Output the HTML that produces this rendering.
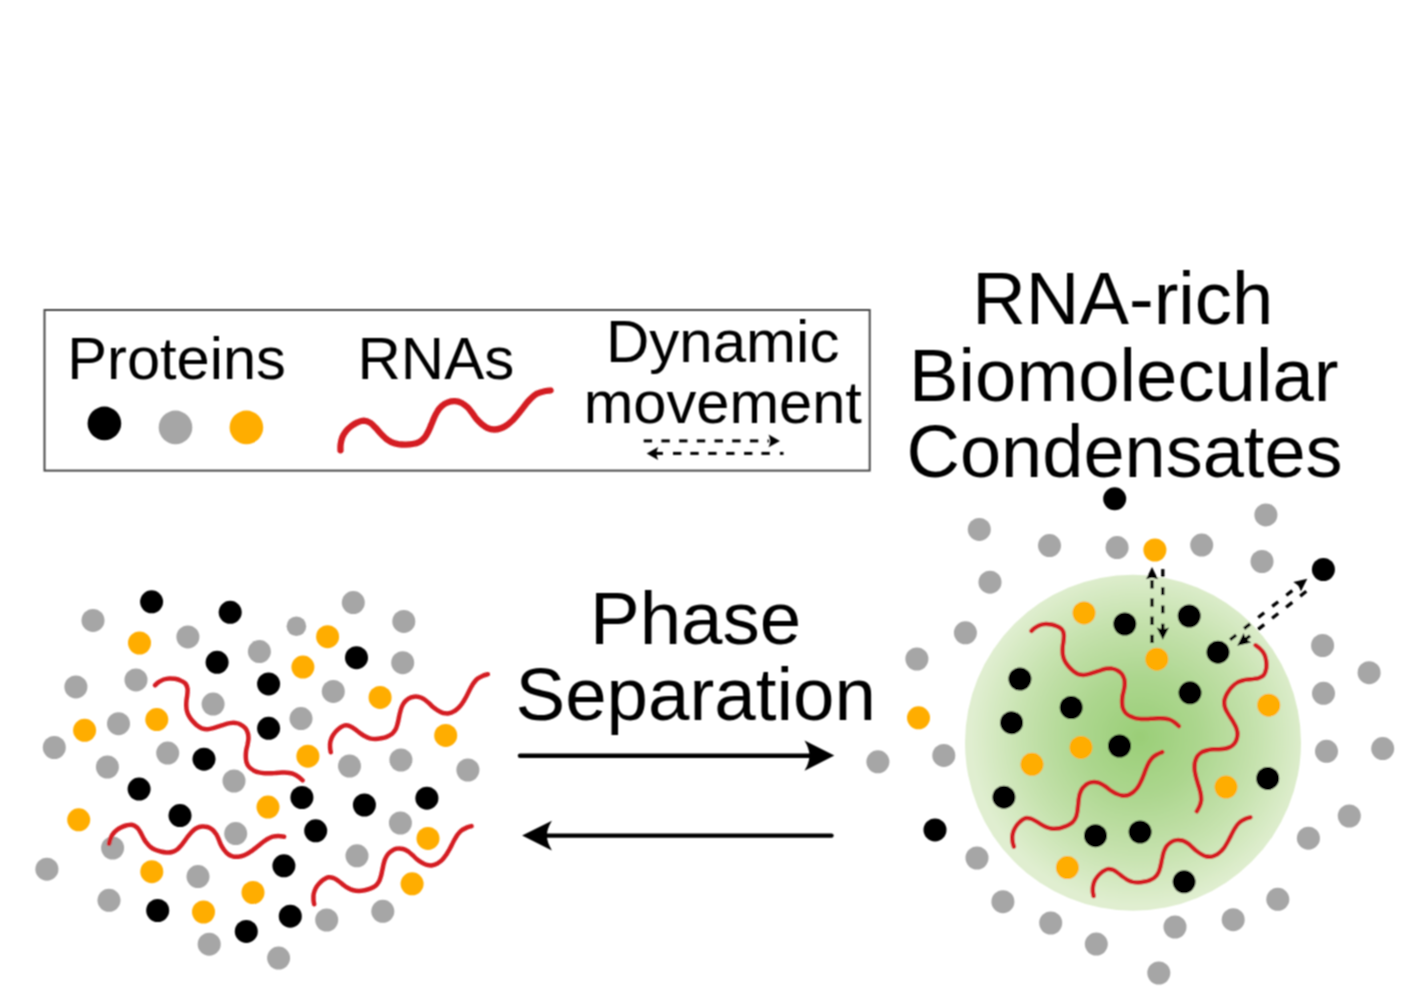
<!DOCTYPE html><html><head><meta charset="utf-8"><style>html,body{margin:0;padding:0;background:#fff;width:1423px;height:991px;overflow:hidden}svg{display:block}</style></head><body><svg width="1423" height="991" viewBox="0 0 1423 991"><defs><radialGradient id="g" cx="1140" cy="737" r="169" gradientUnits="userSpaceOnUse"><stop offset="0" stop-color="#9ACE77"/><stop offset="0.35" stop-color="#ACD68E"/><stop offset="0.7" stop-color="#C6E2AE"/><stop offset="1" stop-color="#E0EED0"/></radialGradient><filter id="bl" x="0" y="0" width="1423" height="991" filterUnits="userSpaceOnUse"><feConvolveMatrix order="3" kernelMatrix="1 2 1 2 4 2 1 2 1" divisor="16" edgeMode="duplicate"/></filter></defs><rect width="1423" height="991" fill="#fff"/><g filter="url(#bl)"><rect x="44.5" y="310" width="825.2" height="160.6" fill="none" stroke="#4a4a4a" stroke-width="2"/><text x="67.3" y="379" font-size="59.6" font-family="Liberation Sans, sans-serif" fill="#000">Proteins</text><text x="357.5" y="379.4" font-size="60" font-family="Liberation Sans, sans-serif" fill="#000">RNAs</text><text x="606" y="362" font-size="60" font-family="Liberation Sans, sans-serif" fill="#000">Dynamic</text><text x="583.7" y="423" font-size="59.6" font-family="Liberation Sans, sans-serif" fill="#000">movement</text><text x="590" y="644.2" font-size="74.5" font-family="Liberation Sans, sans-serif" fill="#000">Phase</text><text x="515.5" y="719.9" font-size="74.5" font-family="Liberation Sans, sans-serif" fill="#000">Separation</text><text x="972.3" y="324.3" font-size="74.2" font-family="Liberation Sans, sans-serif" fill="#000">RNA-rich</text><text x="909" y="400.8" font-size="74.3" font-family="Liberation Sans, sans-serif" fill="#000">Biomolecular</text><text x="906.5" y="477.2" font-size="74" font-family="Liberation Sans, sans-serif" fill="#000">Condensates</text><circle cx="104.4" cy="423.4" r="16.8" fill="#000000"/><circle cx="175.5" cy="427.4" r="16.8" fill="#A6A6A6"/><circle cx="246.4" cy="427.4" r="16.8" fill="#FFAD00"/><circle cx="1133" cy="742.8" r="168" fill="url(#g)"/><circle cx="93" cy="620.4" r="11.5" fill="#A6A6A6"/><circle cx="187.9" cy="636.9" r="11.5" fill="#A6A6A6"/><circle cx="259.4" cy="651.6" r="11.5" fill="#A6A6A6"/><circle cx="136" cy="679.9" r="11.5" fill="#A6A6A6"/><circle cx="75.9" cy="686.9" r="11.5" fill="#A6A6A6"/><circle cx="213.1" cy="704.1" r="11.5" fill="#A6A6A6"/><circle cx="118.5" cy="723.7" r="11.5" fill="#A6A6A6"/><circle cx="54.3" cy="747.5" r="11.5" fill="#A6A6A6"/><circle cx="167.7" cy="753.1" r="11.5" fill="#A6A6A6"/><circle cx="107.4" cy="767" r="11.5" fill="#A6A6A6"/><circle cx="234" cy="781" r="11.5" fill="#A6A6A6"/><circle cx="235.7" cy="833.6" r="11.5" fill="#A6A6A6"/><circle cx="112.6" cy="848" r="11.5" fill="#A6A6A6"/><circle cx="46.9" cy="869.2" r="11.5" fill="#A6A6A6"/><circle cx="198" cy="876.6" r="11.5" fill="#A6A6A6"/><circle cx="109" cy="900.3" r="11.5" fill="#A6A6A6"/><circle cx="209.2" cy="944.2" r="11.5" fill="#A6A6A6"/><circle cx="353.3" cy="602.6" r="11.5" fill="#A6A6A6"/><circle cx="403.8" cy="621.4" r="11.5" fill="#A6A6A6"/><circle cx="402.7" cy="662.7" r="11.5" fill="#A6A6A6"/><circle cx="333.3" cy="691.4" r="11.5" fill="#A6A6A6"/><circle cx="301" cy="718.6" r="11.5" fill="#A6A6A6"/><circle cx="349.5" cy="766" r="11.5" fill="#A6A6A6"/><circle cx="400.9" cy="760" r="11.5" fill="#A6A6A6"/><circle cx="467.9" cy="770" r="11.5" fill="#A6A6A6"/><circle cx="400.4" cy="823" r="11.5" fill="#A6A6A6"/><circle cx="357" cy="855.8" r="11.5" fill="#A6A6A6"/><circle cx="326.7" cy="920" r="11.5" fill="#A6A6A6"/><circle cx="382.8" cy="911.3" r="11.5" fill="#A6A6A6"/><circle cx="278.6" cy="958.1" r="11.5" fill="#A6A6A6"/><circle cx="296.4" cy="626.2" r="9.8" fill="#A6A6A6"/><circle cx="139.5" cy="643" r="11.5" fill="#FFAD00"/><circle cx="156.8" cy="719.6" r="11.5" fill="#FFAD00"/><circle cx="84.6" cy="730.3" r="11.5" fill="#FFAD00"/><circle cx="78.7" cy="819.8" r="11.5" fill="#FFAD00"/><circle cx="151.8" cy="871.7" r="11.5" fill="#FFAD00"/><circle cx="253" cy="892.5" r="11.5" fill="#FFAD00"/><circle cx="203.5" cy="912" r="11.5" fill="#FFAD00"/><circle cx="268" cy="807.1" r="11.5" fill="#FFAD00"/><circle cx="327.6" cy="636.7" r="11.5" fill="#FFAD00"/><circle cx="302.9" cy="667.1" r="11.5" fill="#FFAD00"/><circle cx="380.1" cy="697.4" r="11.5" fill="#FFAD00"/><circle cx="445.7" cy="735.4" r="11.5" fill="#FFAD00"/><circle cx="307.9" cy="756.2" r="11.5" fill="#FFAD00"/><circle cx="428" cy="838.4" r="11.5" fill="#FFAD00"/><circle cx="412.1" cy="883.8" r="11.5" fill="#FFAD00"/><circle cx="151.6" cy="601.8" r="11.5" fill="#000000"/><circle cx="230.2" cy="612.3" r="11.5" fill="#000000"/><circle cx="217.1" cy="662.3" r="11.5" fill="#000000"/><circle cx="268.6" cy="683.9" r="11.5" fill="#000000"/><circle cx="268.6" cy="728.3" r="11.5" fill="#000000"/><circle cx="204" cy="759.2" r="11.5" fill="#000000"/><circle cx="139.1" cy="789.1" r="11.5" fill="#000000"/><circle cx="180" cy="815.6" r="11.5" fill="#000000"/><circle cx="157.7" cy="910.5" r="11.5" fill="#000000"/><circle cx="246.3" cy="931.4" r="11.5" fill="#000000"/><circle cx="356.5" cy="657.7" r="11.5" fill="#000000"/><circle cx="301.9" cy="797.5" r="11.5" fill="#000000"/><circle cx="364.4" cy="805" r="11.5" fill="#000000"/><circle cx="426.9" cy="798.2" r="11.5" fill="#000000"/><circle cx="315.7" cy="830.8" r="11.5" fill="#000000"/><circle cx="283.9" cy="865.8" r="11.5" fill="#000000"/><circle cx="290.3" cy="916.2" r="11.5" fill="#000000"/><circle cx="979.3" cy="529.4" r="11.5" fill="#A6A6A6"/><circle cx="1049.5" cy="545.6" r="11.5" fill="#A6A6A6"/><circle cx="1117.1" cy="547.6" r="11.5" fill="#A6A6A6"/><circle cx="1201.7" cy="545.1" r="11.5" fill="#A6A6A6"/><circle cx="1265.9" cy="514.9" r="11.5" fill="#A6A6A6"/><circle cx="1262" cy="561.5" r="11.5" fill="#A6A6A6"/><circle cx="990" cy="582.2" r="11.5" fill="#A6A6A6"/><circle cx="965.4" cy="632.8" r="11.5" fill="#A6A6A6"/><circle cx="916.9" cy="659" r="11.5" fill="#A6A6A6"/><circle cx="943.8" cy="755.4" r="11.5" fill="#A6A6A6"/><circle cx="877.9" cy="761.8" r="11.5" fill="#A6A6A6"/><circle cx="977" cy="858" r="11.5" fill="#A6A6A6"/><circle cx="1002.9" cy="901.7" r="11.5" fill="#A6A6A6"/><circle cx="1050.7" cy="923" r="11.5" fill="#A6A6A6"/><circle cx="1096.3" cy="944.1" r="11.5" fill="#A6A6A6"/><circle cx="1175" cy="927" r="11.5" fill="#A6A6A6"/><circle cx="1158.8" cy="973" r="11.5" fill="#A6A6A6"/><circle cx="1233.2" cy="919.7" r="11.5" fill="#A6A6A6"/><circle cx="1277.8" cy="899.3" r="11.5" fill="#A6A6A6"/><circle cx="1308.4" cy="838.2" r="11.5" fill="#A6A6A6"/><circle cx="1349.3" cy="816" r="11.5" fill="#A6A6A6"/><circle cx="1326.5" cy="751.3" r="11.5" fill="#A6A6A6"/><circle cx="1382.7" cy="748.6" r="11.5" fill="#A6A6A6"/><circle cx="1323.5" cy="693.3" r="11.5" fill="#A6A6A6"/><circle cx="1322.6" cy="645.5" r="11.5" fill="#A6A6A6"/><circle cx="1369.1" cy="672.7" r="11.5" fill="#A6A6A6"/><circle cx="1154.9" cy="550" r="11.5" fill="#FFAD00"/><circle cx="1084" cy="612.9" r="11.5" fill="#FFAD00"/><circle cx="1156.8" cy="659.2" r="11.5" fill="#FFAD00"/><circle cx="1268.7" cy="705.2" r="11.5" fill="#FFAD00"/><circle cx="1081" cy="747.4" r="11.5" fill="#FFAD00"/><circle cx="1032" cy="764.3" r="11.5" fill="#FFAD00"/><circle cx="1226" cy="787.1" r="11.5" fill="#FFAD00"/><circle cx="1067.4" cy="867.6" r="11.5" fill="#FFAD00"/><circle cx="918.5" cy="717.8" r="11.5" fill="#FFAD00"/><circle cx="1114.7" cy="498.8" r="11.5" fill="#000000"/><circle cx="1323.4" cy="569.5" r="11.5" fill="#000000"/><circle cx="1124.8" cy="624" r="11.5" fill="#000000"/><circle cx="1189.2" cy="616" r="11.5" fill="#000000"/><circle cx="1218" cy="652.2" r="11.5" fill="#000000"/><circle cx="1019.9" cy="679" r="11.5" fill="#000000"/><circle cx="1071.2" cy="707.5" r="11.5" fill="#000000"/><circle cx="1190" cy="692.8" r="11.5" fill="#000000"/><circle cx="1011.6" cy="722.7" r="11.5" fill="#000000"/><circle cx="1119.5" cy="746" r="11.5" fill="#000000"/><circle cx="1267.7" cy="778.4" r="11.5" fill="#000000"/><circle cx="1003.9" cy="797.2" r="11.5" fill="#000000"/><circle cx="1095.5" cy="835.7" r="11.5" fill="#000000"/><circle cx="1140.1" cy="832" r="11.5" fill="#000000"/><circle cx="1184.1" cy="881.8" r="11.5" fill="#000000"/><circle cx="935" cy="829.9" r="11.5" fill="#000000"/><path d="M340.5,450.3 C340.5,449.3 340.3,446.7 340.6,444.6 C340.9,442.5 341.4,439.8 342.2,437.6 C343.1,435.5 344.3,433.3 345.8,431.4 C347.2,429.6 349.0,427.9 350.9,426.4 C352.7,425.0 354.8,423.6 356.9,422.6 C359.1,421.7 361.5,420.6 363.8,420.6 C366.0,420.7 368.4,421.7 370.4,422.9 C372.4,424.1 374.0,426.1 375.6,427.8 C377.3,429.5 378.7,431.5 380.3,433.2 C381.9,434.9 383.6,436.7 385.4,438.2 C387.3,439.7 389.3,441.0 391.4,442.1 C393.5,443.1 395.9,443.7 398.2,444.2 C400.5,444.6 403.0,444.7 405.4,444.7 C407.7,444.6 410.2,444.5 412.5,444.0 C414.8,443.6 417.3,443.0 419.3,441.9 C421.4,440.8 423.2,439.1 424.8,437.3 C426.3,435.6 427.3,433.3 428.4,431.2 C429.5,429.1 430.3,426.8 431.3,424.6 C432.2,422.4 433.1,420.2 434.0,418.0 C435.0,415.8 436.0,413.6 437.3,411.6 C438.5,409.6 440.0,407.6 441.7,406.1 C443.5,404.5 445.7,403.2 447.9,402.4 C450.0,401.6 452.5,401.1 454.9,401.2 C457.2,401.3 459.6,402.0 461.7,403.0 C463.8,404.0 465.7,405.6 467.5,407.3 C469.2,408.9 470.5,410.9 472.0,412.8 C473.5,414.7 474.7,416.8 476.2,418.6 C477.8,420.4 479.4,422.1 481.2,423.7 C483.1,425.2 485.0,426.8 487.1,427.8 C489.2,428.8 491.7,429.5 494.0,429.5 C496.3,429.6 498.7,429.0 500.9,428.2 C503.2,427.4 505.3,426.2 507.3,424.8 C509.2,423.5 511.0,421.8 512.7,420.2 C514.4,418.5 516.0,416.7 517.5,414.8 C519.0,413.0 520.4,411.1 521.9,409.2 C523.4,407.3 524.8,405.4 526.3,403.5 C527.9,401.7 529.4,399.8 531.1,398.2 C532.8,396.6 534.7,394.9 536.7,393.8 C538.8,392.7 541.2,392.0 543.5,391.5 C545.8,390.9 549.4,390.7 550.6,390.5" fill="none" stroke="#D41D22" stroke-width="6.3" stroke-linecap="round" stroke-linejoin="round"/><path d="M155.1,685.2 C155.7,684.7 157.2,683.2 158.6,682.2 C160.0,681.3 161.9,680.2 163.7,679.5 C165.4,678.9 167.4,678.5 169.3,678.4 C171.2,678.3 173.1,678.5 175.0,678.8 C176.9,679.2 178.8,679.7 180.5,680.5 C182.3,681.2 184.2,682.1 185.4,683.5 C186.5,684.9 187.2,686.9 187.5,688.7 C187.8,690.6 187.5,692.6 187.3,694.5 C187.2,696.4 186.7,698.3 186.5,700.2 C186.3,702.1 186.2,704.0 186.3,705.9 C186.3,707.8 186.6,709.8 187.1,711.6 C187.6,713.4 188.4,715.2 189.4,716.8 C190.4,718.4 191.6,720.0 192.9,721.4 C194.2,722.8 195.5,724.2 197.0,725.4 C198.6,726.5 200.2,727.7 201.9,728.4 C203.7,729.0 205.7,729.3 207.6,729.2 C209.5,729.2 211.4,728.7 213.2,728.2 C215.1,727.7 216.9,727.0 218.7,726.4 C220.6,725.8 222.4,725.1 224.2,724.6 C226.0,724.0 227.9,723.4 229.8,723.1 C231.6,722.8 233.6,722.7 235.5,722.9 C237.3,723.2 239.3,723.8 240.9,724.7 C242.6,725.5 244.2,726.8 245.4,728.2 C246.6,729.7 247.4,731.5 247.9,733.3 C248.4,735.1 248.5,737.2 248.4,739.1 C248.3,741.0 247.8,742.9 247.5,744.7 C247.1,746.6 246.5,748.5 246.2,750.4 C245.9,752.3 245.8,754.2 245.8,756.1 C245.8,758.0 245.9,760.0 246.4,761.8 C246.9,763.6 247.8,765.5 249.0,766.9 C250.2,768.3 251.9,769.5 253.5,770.4 C255.2,771.3 257.1,772.0 258.9,772.4 C260.7,772.9 262.7,773.1 264.6,773.2 C266.5,773.4 268.4,773.3 270.4,773.3 C272.3,773.3 274.2,773.1 276.1,773.0 C278.0,772.9 279.9,772.7 281.9,772.6 C283.8,772.6 285.7,772.5 287.6,772.7 C289.5,772.9 291.5,773.1 293.3,773.8 C295.0,774.4 296.7,775.5 298.2,776.6 C299.8,777.7 301.9,779.8 302.6,780.4" fill="none" stroke="#D41D22" stroke-width="4.5" stroke-linecap="round" stroke-linejoin="round"/><path d="M330.8,752.3 C330.7,751.5 330.1,749.5 330.1,747.8 C330.0,746.1 329.9,743.9 330.3,742.1 C330.7,740.2 331.3,738.3 332.2,736.6 C333.1,734.9 334.2,733.4 335.5,731.9 C336.7,730.5 338.2,729.1 339.7,728.0 C341.3,727.0 343.0,725.7 344.8,725.4 C346.6,725.2 348.6,725.6 350.4,726.3 C352.1,726.9 353.7,728.2 355.2,729.4 C356.8,730.5 358.2,731.8 359.7,732.9 C361.3,734.1 362.8,735.2 364.5,736.1 C366.2,737.0 368.0,737.8 369.8,738.3 C371.6,738.8 373.6,739.0 375.5,739.0 C377.4,739.0 379.3,738.7 381.2,738.3 C383.1,737.9 385.0,737.5 386.7,736.8 C388.5,736.1 390.3,735.3 391.8,734.1 C393.2,732.9 394.5,731.3 395.4,729.7 C396.4,728.1 396.9,726.1 397.4,724.3 C398.0,722.5 398.3,720.6 398.7,718.7 C399.1,716.8 399.4,714.9 399.9,713.0 C400.4,711.2 400.8,709.3 401.5,707.5 C402.2,705.8 403.1,704.0 404.2,702.5 C405.4,701.0 406.9,699.7 408.5,698.7 C410.1,697.7 412.0,697.0 413.9,696.7 C415.7,696.4 417.8,696.6 419.6,697.1 C421.4,697.6 423.1,698.6 424.7,699.7 C426.3,700.7 427.7,702.1 429.1,703.3 C430.6,704.6 431.8,706.1 433.3,707.3 C434.8,708.5 436.4,709.6 438.0,710.6 C439.7,711.5 441.4,712.5 443.2,713.0 C445.1,713.4 447.1,713.6 448.9,713.3 C450.7,713.1 452.6,712.2 454.2,711.2 C455.9,710.3 457.4,709.0 458.7,707.7 C460.1,706.3 461.2,704.8 462.3,703.2 C463.4,701.6 464.4,699.9 465.3,698.3 C466.3,696.6 467.1,694.9 468.0,693.2 C468.9,691.5 469.7,689.7 470.6,688.1 C471.6,686.4 472.5,684.7 473.6,683.1 C474.8,681.6 476.0,680.0 477.4,678.8 C478.9,677.6 480.7,676.8 482.4,676.0 C484.2,675.2 487.0,674.5 487.9,674.2" fill="none" stroke="#D41D22" stroke-width="4.5" stroke-linecap="round" stroke-linejoin="round"/><path d="M109.1,843.7 C109.3,843.0 109.7,840.9 110.3,839.3 C110.9,837.7 111.7,835.7 112.8,834.2 C113.9,832.6 115.3,831.2 116.8,830.0 C118.2,828.8 120.0,827.8 121.7,827.1 C123.4,826.3 125.3,825.6 127.1,825.2 C129.0,824.9 131.1,824.5 132.8,825.0 C134.6,825.4 136.2,826.7 137.6,828.0 C138.9,829.3 139.8,831.1 140.7,832.8 C141.7,834.4 142.4,836.2 143.3,837.9 C144.3,839.5 145.2,841.2 146.4,842.7 C147.6,844.2 148.9,845.7 150.3,846.9 C151.8,848.0 153.5,849.0 155.2,849.8 C157.0,850.6 158.8,851.1 160.7,851.5 C162.6,852.0 164.5,852.3 166.4,852.4 C168.3,852.5 170.3,852.5 172.1,852.0 C173.9,851.5 175.7,850.6 177.2,849.5 C178.7,848.4 180.0,846.8 181.2,845.4 C182.5,843.9 183.5,842.3 184.7,840.8 C185.8,839.3 186.9,837.7 188.1,836.2 C189.3,834.7 190.4,833.1 191.8,831.8 C193.2,830.5 194.7,829.2 196.3,828.3 C198.0,827.5 199.9,826.8 201.8,826.6 C203.6,826.4 205.7,826.5 207.5,827.0 C209.3,827.5 211.0,828.5 212.5,829.7 C213.9,830.9 215.1,832.5 216.1,834.1 C217.2,835.7 217.9,837.5 218.7,839.3 C219.4,841.0 220.0,842.9 220.8,844.6 C221.7,846.3 222.7,847.9 223.8,849.5 C224.9,851.0 226.1,852.6 227.6,853.8 C229.0,855.0 230.8,856.0 232.6,856.4 C234.4,856.9 236.4,856.9 238.3,856.7 C240.2,856.5 242.1,856.0 243.9,855.3 C245.6,854.6 247.3,853.7 249.0,852.7 C250.6,851.7 252.2,850.6 253.7,849.4 C255.3,848.3 256.7,847.0 258.2,845.9 C259.7,844.7 261.2,843.4 262.7,842.3 C264.3,841.1 265.8,840.0 267.5,839.0 C269.1,838.1 270.9,837.1 272.7,836.6 C274.5,836.2 276.5,836.1 278.4,836.1 C280.3,836.1 283.1,836.6 284.1,836.7" fill="none" stroke="#D41D22" stroke-width="4.5" stroke-linecap="round" stroke-linejoin="round"/><path d="M314.2,904.2 C314.1,903.4 313.5,901.4 313.5,899.7 C313.4,898.0 313.3,895.8 313.7,893.9 C314.1,892.1 314.7,890.2 315.6,888.5 C316.5,886.8 317.6,885.2 318.9,883.8 C320.2,882.4 321.6,881.0 323.1,879.9 C324.7,878.8 326.5,877.6 328.2,877.3 C330.0,877.0 332.1,877.5 333.8,878.2 C335.6,878.8 337.1,880.1 338.7,881.2 C340.2,882.3 341.6,883.7 343.2,884.8 C344.7,886.0 346.3,887.1 348.0,888.0 C349.6,888.9 351.4,889.7 353.3,890.2 C355.1,890.7 357.0,890.9 358.9,890.9 C360.8,890.9 362.8,890.6 364.7,890.2 C366.5,889.9 368.4,889.4 370.2,888.7 C372.0,888.0 373.9,887.2 375.3,886.0 C376.8,884.8 378.0,883.2 378.9,881.6 C379.9,880.0 380.4,878.0 380.9,876.2 C381.5,874.4 381.8,872.5 382.2,870.6 C382.7,868.7 383.0,866.8 383.4,864.9 C383.9,863.1 384.3,861.2 385.0,859.4 C385.8,857.6 386.6,855.8 387.8,854.4 C389.0,852.9 390.5,851.6 392.1,850.6 C393.7,849.6 395.6,848.8 397.4,848.6 C399.3,848.3 401.3,848.5 403.1,849.0 C405.0,849.5 406.7,850.5 408.3,851.5 C409.9,852.6 411.3,854.0 412.7,855.2 C414.1,856.5 415.4,858.0 416.9,859.2 C418.4,860.4 420.0,861.6 421.6,862.5 C423.3,863.5 425.0,864.4 426.8,864.9 C428.7,865.4 430.7,865.6 432.5,865.3 C434.4,865.0 436.2,864.1 437.9,863.2 C439.5,862.2 441.0,860.9 442.4,859.6 C443.7,858.3 444.9,856.7 446.0,855.1 C447.1,853.6 448.0,851.9 449.0,850.2 C449.9,848.5 450.8,846.8 451.7,845.1 C452.5,843.4 453.4,841.6 454.3,840.0 C455.3,838.3 456.2,836.6 457.3,835.0 C458.4,833.5 459.6,831.9 461.1,830.7 C462.6,829.5 464.4,828.7 466.1,827.9 C467.9,827.1 470.7,826.4 471.6,826.1" fill="none" stroke="#D41D22" stroke-width="4.5" stroke-linecap="round" stroke-linejoin="round"/><path d="M1031.4,630.9 C1032.0,630.4 1033.5,628.9 1034.9,627.9 C1036.3,627.0 1038.2,625.9 1040.0,625.2 C1041.7,624.6 1043.7,624.2 1045.6,624.1 C1047.5,624.0 1049.4,624.2 1051.3,624.5 C1053.2,624.9 1055.1,625.4 1056.8,626.2 C1058.6,626.9 1060.5,627.8 1061.7,629.2 C1062.8,630.6 1063.5,632.6 1063.8,634.4 C1064.1,636.3 1063.8,638.3 1063.6,640.2 C1063.5,642.1 1063.0,644.0 1062.8,645.9 C1062.6,647.8 1062.5,649.7 1062.6,651.6 C1062.6,653.5 1062.9,655.5 1063.4,657.3 C1063.9,659.1 1064.7,660.9 1065.7,662.5 C1066.7,664.1 1067.9,665.7 1069.2,667.1 C1070.5,668.5 1071.8,669.9 1073.3,671.1 C1074.9,672.2 1076.5,673.4 1078.2,674.1 C1080.0,674.7 1082.0,675.0 1083.9,674.9 C1085.8,674.9 1087.7,674.4 1089.5,673.9 C1091.4,673.4 1093.2,672.7 1095.0,672.1 C1096.9,671.5 1098.7,670.8 1100.5,670.3 C1102.3,669.7 1104.2,669.1 1106.1,668.8 C1107.9,668.5 1109.9,668.4 1111.8,668.6 C1113.6,668.9 1115.6,669.5 1117.2,670.4 C1118.9,671.2 1120.5,672.5 1121.7,673.9 C1122.9,675.4 1123.7,677.2 1124.2,679.0 C1124.7,680.8 1124.8,682.9 1124.7,684.8 C1124.6,686.7 1124.1,688.6 1123.8,690.4 C1123.4,692.3 1122.8,694.2 1122.5,696.1 C1122.2,698.0 1122.1,699.9 1122.1,701.8 C1122.1,703.7 1122.2,705.7 1122.7,707.5 C1123.2,709.3 1124.1,711.2 1125.3,712.6 C1126.5,714.0 1128.2,715.2 1129.8,716.1 C1131.5,717.0 1133.4,717.7 1135.2,718.1 C1137.0,718.6 1139.0,718.8 1140.9,718.9 C1142.8,719.1 1144.7,719.0 1146.7,719.0 C1148.6,719.0 1150.5,718.8 1152.4,718.7 C1154.3,718.6 1156.2,718.4 1158.2,718.3 C1160.1,718.3 1162.0,718.2 1163.9,718.4 C1165.8,718.6 1167.8,718.8 1169.6,719.5 C1171.3,720.1 1173.0,721.2 1174.5,722.3 C1176.1,723.4 1178.2,725.5 1178.9,726.1" fill="none" stroke="#D41D22" stroke-width="4.5" stroke-linecap="round" stroke-linejoin="round"/><path d="M1255.6,645.3 C1256.2,645.8 1258.0,646.9 1259.3,648.0 C1260.5,649.2 1262.1,650.8 1263.1,652.3 C1264.2,653.9 1265.0,655.8 1265.5,657.6 C1266.1,659.4 1266.3,661.3 1266.4,663.3 C1266.5,665.2 1266.5,667.2 1266.1,669.0 C1265.7,670.9 1265.3,673.0 1264.2,674.4 C1263.2,675.9 1261.4,677.0 1259.6,677.7 C1257.9,678.5 1255.9,678.6 1254.0,678.9 C1252.1,679.2 1250.2,679.2 1248.2,679.4 C1246.3,679.7 1244.4,680.0 1242.6,680.5 C1240.7,681.0 1238.9,681.7 1237.2,682.6 C1235.6,683.5 1234.0,684.8 1232.7,686.1 C1231.3,687.4 1230.1,689.0 1229.0,690.6 C1227.9,692.1 1226.9,693.8 1226.1,695.5 C1225.3,697.3 1224.5,699.1 1224.3,701.0 C1224.1,702.9 1224.3,704.9 1224.8,706.7 C1225.2,708.6 1226.2,710.3 1227.1,712.0 C1228.0,713.7 1229.1,715.3 1230.1,717.0 C1231.1,718.6 1232.2,720.2 1233.2,721.9 C1234.1,723.5 1235.1,725.2 1235.9,727.0 C1236.6,728.7 1237.2,730.6 1237.4,732.5 C1237.6,734.4 1237.4,736.4 1236.9,738.2 C1236.5,740.0 1235.6,741.9 1234.5,743.4 C1233.3,744.9 1231.7,746.2 1230.1,747.1 C1228.4,748.0 1226.5,748.5 1224.6,748.8 C1222.7,749.2 1220.8,749.2 1218.9,749.2 C1216.9,749.3 1215.0,749.1 1213.1,749.3 C1211.2,749.5 1209.2,749.8 1207.4,750.2 C1205.5,750.7 1203.6,751.2 1201.9,752.1 C1200.3,753.1 1198.7,754.4 1197.6,755.8 C1196.5,757.3 1195.7,759.3 1195.2,761.1 C1194.7,762.9 1194.5,764.9 1194.5,766.8 C1194.4,768.7 1194.7,770.6 1195.0,772.5 C1195.3,774.4 1195.8,776.3 1196.3,778.2 C1196.8,780.0 1197.4,781.9 1197.9,783.7 C1198.5,785.6 1199.1,787.4 1199.6,789.3 C1200.1,791.1 1200.6,793.0 1200.9,794.9 C1201.1,796.8 1201.3,798.8 1201.1,800.7 C1200.9,802.5 1200.2,804.4 1199.5,806.2 C1198.8,808.0 1197.2,810.4 1196.8,811.3" fill="none" stroke="#D41D22" stroke-width="4.5" stroke-linecap="round" stroke-linejoin="round"/><path d="M1013.9,846.6 C1013.7,845.9 1012.9,843.9 1012.7,842.2 C1012.4,840.5 1012.2,838.3 1012.3,836.4 C1012.5,834.6 1013.0,832.6 1013.6,830.8 C1014.3,829.1 1015.3,827.4 1016.4,825.8 C1017.5,824.2 1018.8,822.7 1020.2,821.5 C1021.6,820.2 1023.3,818.8 1025.0,818.3 C1026.7,817.9 1028.8,818.1 1030.7,818.6 C1032.5,819.1 1034.1,820.2 1035.8,821.1 C1037.5,822.1 1039.0,823.3 1040.7,824.2 C1042.3,825.2 1044.0,826.2 1045.8,826.9 C1047.5,827.6 1049.4,828.2 1051.3,828.5 C1053.1,828.8 1055.1,828.8 1057.0,828.6 C1058.9,828.4 1060.8,827.9 1062.6,827.3 C1064.5,826.8 1066.3,826.1 1068.0,825.2 C1069.7,824.3 1071.4,823.3 1072.8,822.0 C1074.1,820.7 1075.2,818.9 1075.9,817.2 C1076.7,815.5 1077.0,813.5 1077.3,811.6 C1077.7,809.7 1077.8,807.8 1078.0,805.9 C1078.2,804.0 1078.4,802.0 1078.6,800.1 C1078.9,798.2 1079.1,796.3 1079.6,794.5 C1080.2,792.6 1080.8,790.8 1081.8,789.2 C1082.8,787.6 1084.2,786.1 1085.7,784.9 C1087.2,783.8 1089.0,782.8 1090.8,782.4 C1092.6,781.9 1094.7,781.9 1096.5,782.2 C1098.4,782.5 1100.2,783.3 1101.9,784.2 C1103.6,785.0 1105.1,786.3 1106.7,787.4 C1108.3,788.5 1109.7,789.8 1111.3,790.9 C1112.9,791.9 1114.6,792.9 1116.3,793.7 C1118.1,794.4 1119.9,795.2 1121.8,795.5 C1123.7,795.8 1125.7,795.7 1127.5,795.3 C1129.3,794.8 1131.0,793.7 1132.6,792.6 C1134.1,791.5 1135.5,790.0 1136.7,788.6 C1137.9,787.1 1138.9,785.4 1139.8,783.7 C1140.7,782.0 1141.5,780.3 1142.3,778.5 C1143.0,776.7 1143.7,774.9 1144.4,773.1 C1145.1,771.3 1145.7,769.5 1146.5,767.7 C1147.2,766.0 1148.0,764.2 1148.9,762.5 C1149.9,760.9 1150.9,759.2 1152.3,757.8 C1153.6,756.5 1155.3,755.4 1156.9,754.5 C1158.6,753.5 1161.3,752.5 1162.2,752.1" fill="none" stroke="#D41D22" stroke-width="4.5" stroke-linecap="round" stroke-linejoin="round"/><path d="M1093.6,896.0 C1093.5,895.2 1092.9,893.2 1092.8,891.5 C1092.7,889.8 1092.7,887.6 1093.1,885.8 C1093.4,883.9 1094.1,882.0 1094.9,880.3 C1095.8,878.6 1097.0,877.1 1098.2,875.6 C1099.4,874.2 1100.9,872.8 1102.4,871.7 C1104.0,870.6 1105.7,869.4 1107.5,869.1 C1109.3,868.8 1111.3,869.3 1113.1,869.9 C1114.8,870.5 1116.4,871.9 1117.9,873.0 C1119.5,874.1 1120.9,875.4 1122.4,876.5 C1124.0,877.7 1125.6,878.8 1127.2,879.7 C1128.9,880.6 1130.7,881.4 1132.5,881.9 C1134.4,882.3 1136.3,882.5 1138.2,882.5 C1140.1,882.5 1142.1,882.2 1143.9,881.8 C1145.8,881.4 1147.7,881.0 1149.5,880.3 C1151.2,879.6 1153.1,878.8 1154.5,877.6 C1156.0,876.4 1157.2,874.8 1158.1,873.1 C1159.1,871.5 1159.6,869.6 1160.1,867.7 C1160.7,865.9 1161.0,864.0 1161.4,862.1 C1161.8,860.2 1162.1,858.3 1162.6,856.5 C1163.0,854.6 1163.4,852.7 1164.1,851.0 C1164.8,849.2 1165.7,847.4 1166.8,845.9 C1168.0,844.4 1169.5,843.1 1171.1,842.1 C1172.7,841.1 1174.6,840.4 1176.5,840.1 C1178.3,839.8 1180.3,840.0 1182.2,840.5 C1184.0,841.0 1185.7,842.0 1187.3,843.0 C1188.9,844.0 1190.3,845.4 1191.7,846.7 C1193.2,847.9 1194.4,849.4 1195.9,850.6 C1197.4,851.8 1199.0,852.9 1200.7,853.9 C1202.3,854.8 1204.1,855.8 1205.9,856.3 C1207.7,856.7 1209.7,856.9 1211.6,856.6 C1213.4,856.3 1215.2,855.4 1216.9,854.5 C1218.5,853.5 1220.0,852.2 1221.4,850.9 C1222.7,849.5 1223.9,848.0 1225.0,846.4 C1226.0,844.8 1227.0,843.1 1227.9,841.5 C1228.9,839.8 1229.7,838.1 1230.6,836.4 C1231.4,834.6 1232.3,832.9 1233.2,831.2 C1234.1,829.6 1235.0,827.8 1236.2,826.3 C1237.3,824.7 1238.5,823.2 1240.0,822.0 C1241.4,820.8 1243.2,819.9 1244.9,819.1 C1246.7,818.4 1249.5,817.6 1250.4,817.3" fill="none" stroke="#D41D22" stroke-width="4.5" stroke-linecap="round" stroke-linejoin="round"/><line x1="520" y1="755.8" x2="812" y2="755.8" stroke="#000" stroke-width="4.4" stroke-linecap="round"/><path d="M834.3,755.6 L804.5,770.8 Q809.5,762.4 809.5,755.6 Q809.5,748.8 804.5,740.4 Z" fill="#000"/><line x1="545" y1="835.6" x2="831.5" y2="835.6" stroke="#000" stroke-width="4.4" stroke-linecap="round"/><path d="M522.1,835.6 L551.9,820.8 Q546.9,828.9 546.9,835.6 Q546.9,842.3 551.9,850.4 Z" fill="#000"/><g stroke="#000" stroke-width="3" stroke-linecap="butt"><line x1="643.7" y1="440.9" x2="652.1" y2="440.9"/><line x1="661.4" y1="440.9" x2="669.8" y2="440.9"/><line x1="679.1" y1="440.9" x2="687.5" y2="440.9"/><line x1="696.8" y1="440.9" x2="705.2" y2="440.9"/><line x1="714.5" y1="440.9" x2="722.9" y2="440.9"/><line x1="732.2" y1="440.9" x2="740.6" y2="440.9"/><line x1="749.9" y1="440.9" x2="758.3" y2="440.9"/><line x1="767.6" y1="440.9" x2="769.0" y2="440.9"/><line x1="655.0" y1="453.4" x2="662.9" y2="453.4"/><line x1="673.0" y1="453.4" x2="681.4" y2="453.4"/><line x1="690.3" y1="453.4" x2="698.7" y2="453.4"/><line x1="708.2" y1="453.4" x2="716.6" y2="453.4"/><line x1="726.2" y1="453.4" x2="734.5" y2="453.4"/><line x1="744.1" y1="453.4" x2="752.4" y2="453.4"/><line x1="761.4" y1="453.4" x2="769.8" y2="453.4"/><line x1="779.9" y1="453.4" x2="783.5" y2="453.4"/></g><path d="M780.0,440.9 L768.5,447.2 Q770.3,442.8 770.3,440.9 Q770.3,439.0 768.5,434.6 Z" fill="#000"/><path d="M646.7,453.4 L658.2,446.9 Q656.4,451.4 656.4,453.4 Q656.4,455.3 658.2,459.9 Z" fill="#000"/><g stroke="#000" stroke-width="3.3" stroke-linecap="butt"><line x1="1152.0" y1="580.2" x2="1152.0" y2="588.5"/><line x1="1152.0" y1="598.4" x2="1152.0" y2="606.7"/><line x1="1152.0" y1="616.6" x2="1152.0" y2="624.9"/><line x1="1152.0" y1="634.8" x2="1152.0" y2="643.0"/><line x1="1162.8" y1="569.1" x2="1162.8" y2="576.9"/><line x1="1162.8" y1="587.3" x2="1162.8" y2="595.1"/><line x1="1162.8" y1="605.5" x2="1162.8" y2="613.3"/><line x1="1162.8" y1="623.7" x2="1162.8" y2="630.0"/><line x1="1230.1" y1="639.7" x2="1236.1" y2="635.0"/><line x1="1244.1" y1="628.6" x2="1250.1" y2="623.9"/><line x1="1258.2" y1="617.5" x2="1264.2" y2="612.8"/><line x1="1272.2" y1="606.4" x2="1278.2" y2="601.7"/><line x1="1286.3" y1="595.3" x2="1292.3" y2="590.6"/><line x1="1306.3" y1="591.3" x2="1300.2" y2="596.1"/><line x1="1292.3" y1="602.4" x2="1286.1" y2="607.2"/><line x1="1278.2" y1="613.5" x2="1272.1" y2="618.3"/><line x1="1264.2" y1="624.6" x2="1258.0" y2="629.4"/><line x1="1250.1" y1="635.7" x2="1244.0" y2="640.5"/></g><path d="M1152.0,567.1 L1158.0,579.3 Q1153.8,577.8 1152.0,577.8 Q1150.2,577.8 1146.0,579.3 Z" fill="#000"/><path d="M1162.8,639.7 L1156.6,627.5 Q1160.9,629.0 1162.8,629.0 Q1164.7,629.0 1169.0,627.5 Z" fill="#000"/><path d="M1307.3,578.7 L1300.9,591.6 Q1299.4,587.3 1298.3,585.8 Q1297.1,584.4 1293.3,581.9 Z" fill="#000"/><path d="M1237.2,645.8 L1243.6,632.9 Q1245.1,637.2 1246.2,638.7 Q1247.4,640.1 1251.2,642.6 Z" fill="#000"/></g></svg></body></html>
